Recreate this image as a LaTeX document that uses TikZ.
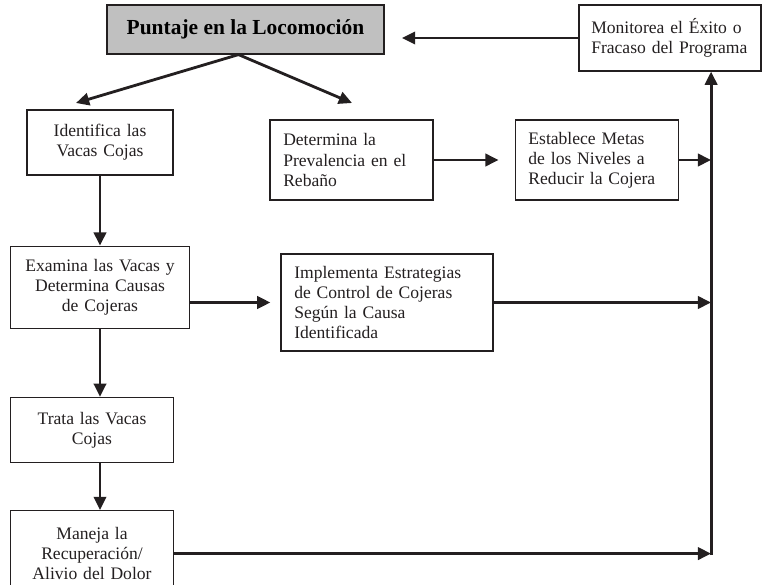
\documentclass[tikz,border=0pt]{standalone}
\usepackage{fontspec}
\setmainfont{Liberation Serif}
\usepackage{tikz}
\usetikzlibrary{arrows.meta, positioning, calc}
\usepackage{xcolor}
\definecolor{inkline}{RGB}{35,31,32}
\definecolor{boxgray}{RGB}{192,192,192}

\begin{document}
\begin{tikzpicture}[
    x=0.02cm, y=-0.02cm,
    node distance=1.4cm and 1.62cm,
    box/.style={draw=inkline, line width=0.7pt, text=inkline,
                font=\fontsize{10}{11.5}\selectfont},
    lbox/.style={box, align=left, inner xsep=0.265cm},
    cbox/.style={box, align=center, inner xsep=0.15cm},
    topbox/.style={draw=inkline, line width=0.7pt, fill=boxgray,
                   minimum width=5.54cm, minimum height=0.98cm,
                   font=\bfseries\fontsize{12.2}{14}\selectfont},
    arr/.style={-{Triangle[length=7.5pt,width=7pt]}, line width=1.6pt, inkline},
  ]
    \useasboundingbox (0,0) rectangle (762,585);

    \node[topbox] (title) at (245.5,29.5) {Puntaje en la Locomoción};
    \node[lbox, text width=3.15cm, inner xsep=0.245cm, minimum height=1.32cm] (mon) at (670,38)
        {Monitorea el Éxito o\\Fracaso del Programa};
    \node[cbox, text width=2.62cm, minimum height=1.3cm] (ident) at (100,142.5)
        {Identifica las\\Vacas Cojas};
    \node[lbox, text width=2.73cm, minimum height=1.6cm] (deter) at (351.5,160)
        {Determina la\\Prevalencia en el\\Rebaño};
    \node[lbox, text width=2.73cm, minimum height=1.6cm, right=of deter] (estab)
        {Establece Metas\\de los Niveles a\\Reducir la Cojera};
    \node[cbox, text width=3.28cm, minimum height=1.64cm, below=of ident] (exam)
        {Examina las Vacas y\\Determina Causas\\de Cojeras};
    \node[lbox, text width=3.71cm, minimum height=1.94cm] (impl) at (387,302.5)
        {Implementa Estrategias\\de Control de Cojeras\\Según la Causa\\Identificada};
    \node[cbox, text width=2.96cm, minimum height=1.3cm,
          below right=1.36cm and 0cm of exam.south west] (trata)
        {Trata las Vacas\\Cojas};
    \node[cbox, text width=2.96cm, minimum height=1.72cm, below=0.94cm of trata] (maneja)
        {Maneja la\\Recuperación/\\Alivio del Dolor};

    \coordinate (fork) at ($(title.south)+(-7,0)$);
    \coordinate (tipL) at (76,103);
    \coordinate (tipR) at (352,103);
    \coordinate (backtip) at (402,38);
    \coordinate (rail) at ($(maneja.east)+(537,0)$);

    \draw[arr] (fork) -- (tipL);
    \draw[arr] (fork) -- (tipR);
    \draw[arr] (mon.west) -- (backtip);
    \draw[arr] (ident.south) -- (ident.south |- exam.north);
    \draw[arr] (exam.south) -- (exam.south |- trata.north);
    \draw[arr] (trata.south -| exam.south) -- (exam.south |- maneja.north);
    \draw[arr, shorten >=0.2cm] (exam.east |- impl.west) -- (impl.west);
    \draw[arr, shorten >=0.32cm] (deter.east) -- (estab.west);
    \draw[arr] (estab.east) -- (estab.east -| rail);
    \draw[arr] (impl.east) -- (impl.east -| rail);
    \draw[arr] (maneja.east) -- (rail);
    \draw[arr] ([yshift=-0.8pt]rail) -- (rail |- mon.south);
  \end{tikzpicture}
\end{document}
